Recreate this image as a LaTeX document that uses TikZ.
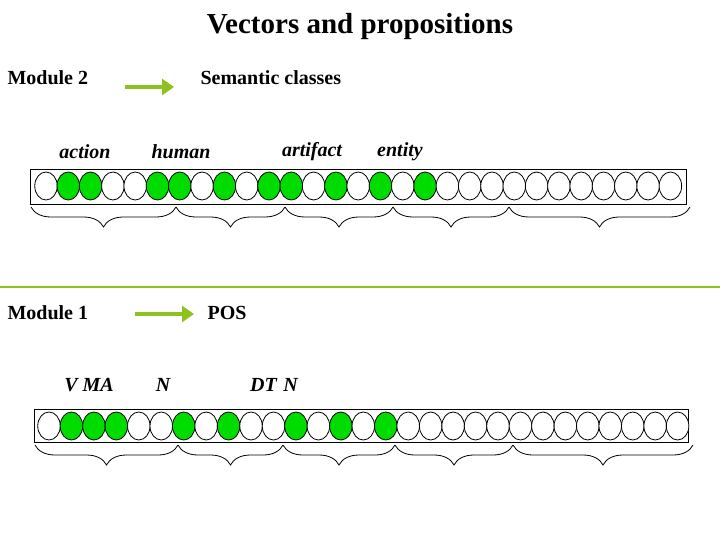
\documentclass[tikz,border=0pt]{standalone}
\usepackage{fontspec}
\setmainfont{Liberation Serif}
\usetikzlibrary{decorations.pathreplacing,arrows.meta,shapes.geometric}
\definecolor{grn}{RGB}{0,220,0}
\definecolor{olive}{RGB}{141,194,31}
\begin{document}
\begin{tikzpicture}[x=1pt,y=-1pt,
  cell/.style={ellipse,draw,line width=0.8pt,minimum width=22.5pt,minimum height=28pt,inner sep=0pt},
  on/.style={cell,fill=grn},
  off/.style={cell,fill=white},
  vec/.style={draw,line width=0.8pt},
  br/.style={decorate,decoration={brace,mirror,amplitude=20pt},line width=0.8pt},
  hd/.style={font=\bfseries\fontsize{20}{24}\selectfont,anchor=west},
  lab/.style={font=\bfseries\itshape\fontsize{20}{24}\selectfont},
  arr/.style={olive,line width=4pt,-{Triangle[length=12pt,width=16pt]}}]
\useasboundingbox (0,0) rectangle (720,540);
\node[font=\bfseries\fontsize{29}{34}\selectfont] (title) at (360,27) {Vectors and propositions};
% top section
\node[hd] (m2) at (4,78) {Module 2};
\coordinate (a2s) at (125,87); \coordinate (a2e) at (174,87);
\draw[arr] (a2s) -- (a2e);
\node[hd] (sc) at (197,78) {Semantic classes};
\node[lab] (l1) at (85,152) {action};
\node[lab] (l2) at (181,152) {human};
\node[lab] (l3) at (312,152) {artifact};
\node[lab] (l4) at (400,152) {entity};
\node[vec,minimum width=656pt,minimum height=35pt,anchor=north west] (v2) at (30,169) {};
\foreach \i in {0,...,28}{
  \pgfmathtruncatemacro{\g}{(\i==1||\i==2||\i==5||\i==6||\i==8||\i==10||\i==11||\i==13||\i==15||\i==17)?1:0}
  \ifnum\g=1 \node[on] (t\i) at (46+22.3*\i,186) {}; \else \node[off] (t\i) at (46+22.3*\i,186) {}; \fi
}
\foreach \a/\b in {31/176,176/285,285/393,393/509,509/690}
  \draw[br] (\a,207) -- (\b,207);
\draw[olive,line width=1.5pt] (0,287) -- (720,287);
% bottom section
\node[hd] (m1) at (4,313) {Module 1};
\coordinate (a1s) at (135,314); \coordinate (a1e) at (194,314);
\draw[arr] (a1s) -- (a1e);
\node[hd] (pos) at (204,313) {POS};
\node[lab] (k1) at (89,385) {V MA};
\node[lab] (k2) at (163,385) {N};
\node[lab] (k3) at (274,385) {DT\,\,N};
\node[vec,minimum width=654pt,minimum height=33pt,anchor=north west] (v1) at (34,409) {};
\foreach \i in {0,...,28}{
  \pgfmathtruncatemacro{\g}{(\i==1||\i==2||\i==3||\i==6||\i==8||\i==11||\i==13||\i==15)?1:0}
  \ifnum\g=1 \node[on] (b\i) at (49+22.45*\i,426) {}; \else \node[off] (b\i) at (49+22.45*\i,426) {}; \fi
}
\foreach \a/\b in {35/178,178/283,283/395,395/513,513/693}
  \draw[br] (\a,445) -- (\b,445);
\end{tikzpicture}
\end{document}
